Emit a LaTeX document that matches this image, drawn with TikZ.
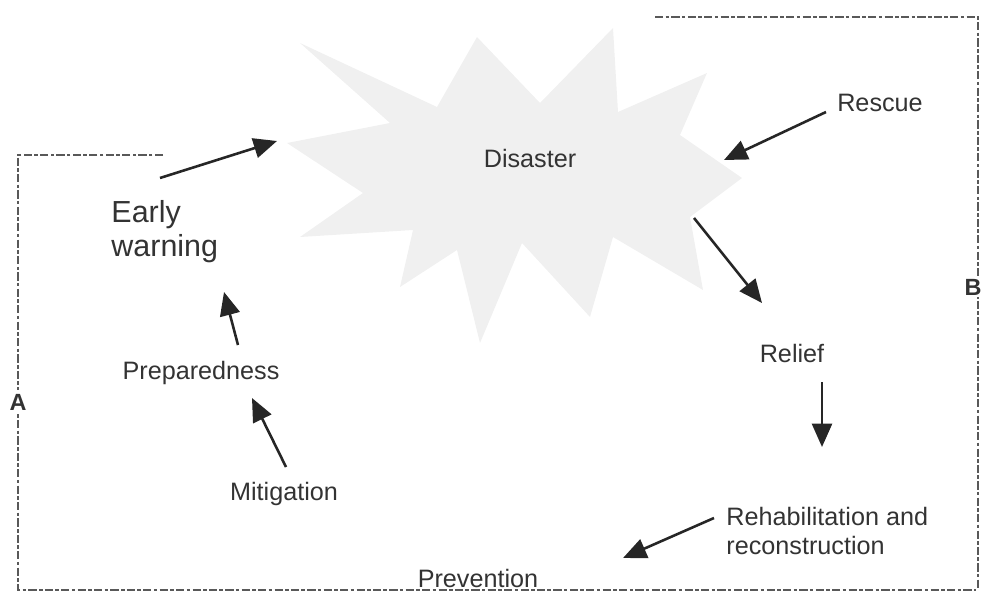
\documentclass[tikz,border=0pt]{standalone}
\usepackage{fontspec}
\setmainfont{Liberation Sans}
\usetikzlibrary{arrows.meta}

\tikzset{
  lbl/.style={text=black!80, font=\fontsize{21.5}{25}\selectfont, inner sep=0pt},
  arr/.style={line width=2.2pt, draw=black!85, -{Triangle[length=0.7cm, width=0.6cm]}},
  frame/.style={draw=gray!70!black, line width=1.2pt, dash pattern=on 7pt off 2pt on 3pt off 2pt},
}

\begin{document}
\begin{tikzpicture}[x=0.03cm, y=-0.03cm, thick]
\useasboundingbox (0,0) rectangle (983,594);

\fill[gray!12] (300,43) -- (437,107) -- (477,37) -- (540,103) -- (613,28) -- (618,112)
  -- (707,73) -- (680,135) -- (742,178) -- (690,217) -- (703,290) -- (613,237)
  -- (590,317) -- (522,243) -- (480,343) -- (457,250) -- (400,287) -- (413,230)
  -- (300,237) -- (363,193) -- (287,143) -- (390,123) -- cycle;

\draw[frame] (163,155) -- (18,155) -- (18,590) -- (976,590);
\draw[frame] (655,17) -- (978,17) -- (978,590);

\node [lbl, font=\fontsize{20}{24}\selectfont\bfseries, fill=white, inner sep=3pt] (lblA) at (18,402) {A};
\node [lbl, font=\fontsize{20}{24}\selectfont\bfseries, fill=white, inner sep=2pt] (lblB) at (973,287) {B};

\node [lbl] (disaster) at (530,158) {Disaster};
\node [lbl] (rescue) at (880,103) {Rescue};
\node [lbl, font=\fontsize{26}{29}\selectfont, align=left, anchor=west] (early) at (111,232) {Early\\warning};
\node [lbl] (prep) at (201,373) {Preparedness};
\node [lbl] (mitig) at (284,494) {Mitigation};
\node [lbl] (relief) at (792,353) {Relief};
\node [lbl, align=left, anchor=west] (rehab) at (726,531) {Rehabilitation and\\reconstruction};
\node [lbl] (prev) at (478,578) {Prevention};

\coordinate (early-out) at (160,178);
\coordinate (dis-w) at (277,141);
\coordinate (rescue-out) at (826,112);
\coordinate (dis-e) at (724,160);
\coordinate (dis-se) at (694,218);
\coordinate (relief-in) at (762,303);
\coordinate (relief-out) at (822,382);
\coordinate (rehab-in) at (822,447);
\coordinate (rehab-out) at (714,518);
\coordinate (prev-in) at (623,558);
\coordinate (mitig-out) at (286,467);
\coordinate (prep-in) at (252,398);
\coordinate (prep-out) at (238,345);
\coordinate (early-in) at (224,292);

\draw[arr] (early-out) -- (dis-w);
\draw[arr] (rescue-out) -- (dis-e);
\draw[arr] (dis-se) -- (relief-in);
\draw[arr] (relief-out) -- (rehab-in);
\draw[arr] (rehab-out) -- (prev-in);
\draw[arr] (mitig-out) -- (prep-in);
\draw[arr] (prep-out) -- (early-in);
\end{tikzpicture}
\end{document}
